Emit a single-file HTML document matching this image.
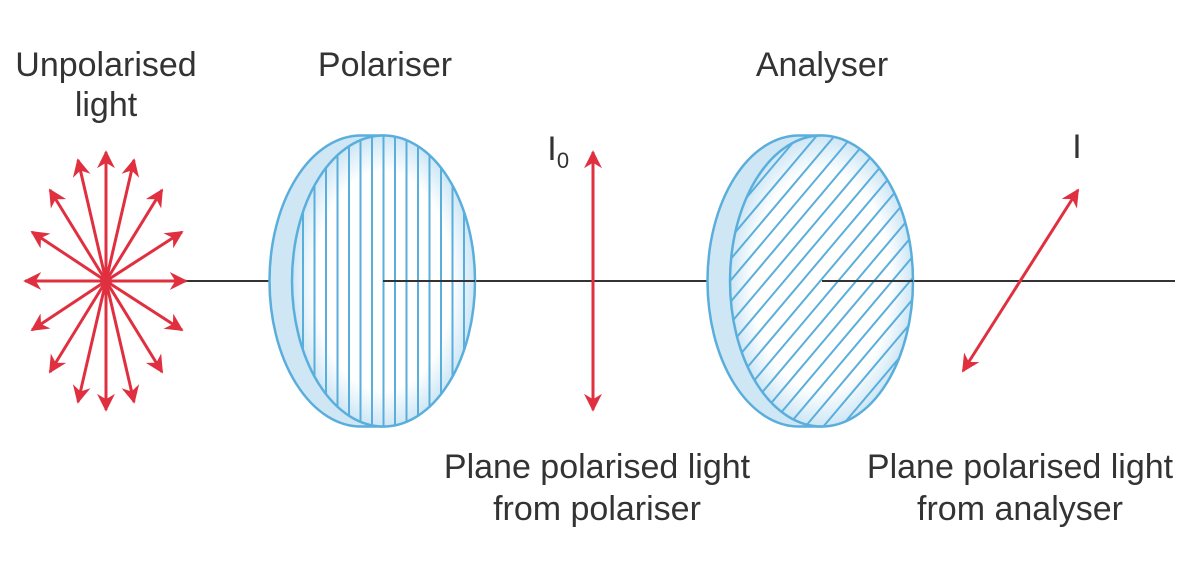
<!DOCTYPE html>
<html><head><meta charset="utf-8"><style>
html,body{margin:0;padding:0;background:#fff;}
svg{display:block}
text{font-family:"Liberation Sans",sans-serif;fill:#333;font-size:34px;text-anchor:middle;}
</style></head><body>
<svg width="1200" height="564" viewBox="0 0 1200 564" xmlns="http://www.w3.org/2000/svg">
<defs>
<marker id="ah" viewBox="0 0 10 10" refX="9" refY="5" markerWidth="6" markerHeight="6" orient="auto-start-reverse">
<path d="M0,0 L10,5 L0,10 L3,5 z" fill="#e03040"/></marker>
<radialGradient id="g" cx="0.5" cy="0.5" r="0.5"><stop offset="0.75" stop-color="#fff"/><stop offset="1" stop-color="#cde6f5"/></radialGradient>
<clipPath id="c1"><ellipse cx="383.5" cy="281" rx="91.5" ry="145.5"/></clipPath>
<clipPath id="c2"><ellipse cx="821.5" cy="281" rx="91.5" ry="145.5"/></clipPath>
<pattern id="hp" patternUnits="userSpaceOnUse" width="17" height="320" x="0" y="120">
<line x1="-270" y1="320" x2="0" y2="0" stroke="#5aaedc" stroke-width="2"/>
</pattern>
</defs>
<g stroke="#333" stroke-width="2">
<line x1="106" y1="281" x2="270" y2="281"/>
<line x1="383" y1="281" x2="710" y2="281"/>
<line x1="822" y1="281" x2="1175" y2="281"/>
</g>
<!-- polariser -->
<path d="M383.5,135.5 L361,135.5 A91.5,145.5 0 0 0 361,426.5 L383.5,426.5 Z" fill="#cfe7f5" stroke="#5aaedc" stroke-width="2.5"/>
<ellipse cx="383.5" cy="281" rx="91.5" ry="145.5" fill="url(#g)" stroke="#5aaedc" stroke-width="2.5"/>
<g clip-path="url(#c1)" stroke="#5aaedc" stroke-width="2">
<line x1="303" y1="130" x2="303" y2="430"/><line x1="314.5" y1="130" x2="314.5" y2="430"/><line x1="326" y1="130" x2="326" y2="430"/><line x1="337.5" y1="130" x2="337.5" y2="430"/><line x1="349" y1="130" x2="349" y2="430"/><line x1="360.5" y1="130" x2="360.5" y2="430"/><line x1="372" y1="130" x2="372" y2="430"/><line x1="383.5" y1="130" x2="383.5" y2="430"/><line x1="395" y1="130" x2="395" y2="430"/><line x1="406.5" y1="130" x2="406.5" y2="430"/><line x1="418" y1="130" x2="418" y2="430"/><line x1="429.5" y1="130" x2="429.5" y2="430"/><line x1="441" y1="130" x2="441" y2="430"/><line x1="452.5" y1="130" x2="452.5" y2="430"/><line x1="464" y1="130" x2="464" y2="430"/>
</g>
<line x1="383" y1="281" x2="475" y2="281" stroke="#333" stroke-width="2"/>
<!-- analyser -->
<path d="M821.5,135.5 L799,135.5 A91.5,145.5 0 0 0 799,426.5 L821.5,426.5 Z" fill="#cfe7f5" stroke="#5aaedc" stroke-width="2.5"/>
<ellipse cx="821.5" cy="281" rx="91.5" ry="145.5" fill="url(#g)" stroke="#5aaedc" stroke-width="2.5"/>
<g clip-path="url(#c2)" stroke="#5aaedc" stroke-width="2">
<line x1="470" y1="440" x2="740" y2="120"/><line x1="488" y1="440" x2="758" y2="120"/><line x1="506" y1="440" x2="776" y2="120"/><line x1="524" y1="440" x2="794" y2="120"/><line x1="542" y1="440" x2="812" y2="120"/><line x1="560" y1="440" x2="830" y2="120"/><line x1="578" y1="440" x2="848" y2="120"/><line x1="596" y1="440" x2="866" y2="120"/><line x1="614" y1="440" x2="884" y2="120"/><line x1="632" y1="440" x2="902" y2="120"/><line x1="650" y1="440" x2="920" y2="120"/><line x1="668" y1="440" x2="938" y2="120"/><line x1="686" y1="440" x2="956" y2="120"/><line x1="704" y1="440" x2="974" y2="120"/><line x1="722" y1="440" x2="992" y2="120"/><line x1="740" y1="440" x2="1010" y2="120"/><line x1="758" y1="440" x2="1028" y2="120"/><line x1="776" y1="440" x2="1046" y2="120"/><line x1="794" y1="440" x2="1064" y2="120"/><line x1="812" y1="440" x2="1082" y2="120"/><line x1="830" y1="440" x2="1100" y2="120"/><line x1="848" y1="440" x2="1118" y2="120"/><line x1="866" y1="440" x2="1136" y2="120"/><line x1="884" y1="440" x2="1154" y2="120"/><line x1="902" y1="440" x2="1172" y2="120"/>
</g>
<line x1="822" y1="281" x2="913" y2="281" stroke="#333" stroke-width="2"/>
<!-- red arrows -->
<g stroke="#e03040" stroke-width="3" marker-end="url(#ah)">
<line x1="106" y1="281" x2="106" y2="152"/><line x1="106" y1="281" x2="106" y2="410"/>
<line x1="106" y1="281" x2="25" y2="281"/><line x1="106" y1="281" x2="186" y2="281"/>
<line x1="106" y1="281" x2="78" y2="160"/><line x1="106" y1="281" x2="134" y2="160"/>
<line x1="106" y1="281" x2="50" y2="190"/><line x1="106" y1="281" x2="162" y2="190"/>
<line x1="106" y1="281" x2="32" y2="232"/><line x1="106" y1="281" x2="182" y2="232"/>
<line x1="106" y1="281" x2="32" y2="330"/><line x1="106" y1="281" x2="182" y2="330"/>
<line x1="106" y1="281" x2="50" y2="372"/><line x1="106" y1="281" x2="162" y2="372"/>
<line x1="106" y1="281" x2="78" y2="402"/><line x1="106" y1="281" x2="134" y2="402"/>
</g>
<circle cx="106" cy="281" r="6" fill="#e03040"/>
<line x1="593" y1="152" x2="593" y2="410" stroke="#e03040" stroke-width="3" marker-start="url(#ah)" marker-end="url(#ah)"/>
<line x1="1078" y1="190" x2="963" y2="371" stroke="#e03040" stroke-width="3" marker-start="url(#ah)" marker-end="url(#ah)"/>
<!-- labels -->
<text x="106" y="76">Unpolarised</text>
<text x="106" y="116">light</text>
<text x="385" y="76">Polariser</text>
<text x="822" y="76">Analyser</text>
<text x="552" y="160">I</text><text x="563" y="168" style="font-size:22px">0</text>
<text x="1077" y="158">I</text>
<text x="597" y="478">Plane polarised light</text>
<text x="597" y="520">from polariser</text>
<text x="1020" y="478">Plane polarised light</text>
<text x="1020" y="520">from analyser</text>
</svg>
</body></html>
